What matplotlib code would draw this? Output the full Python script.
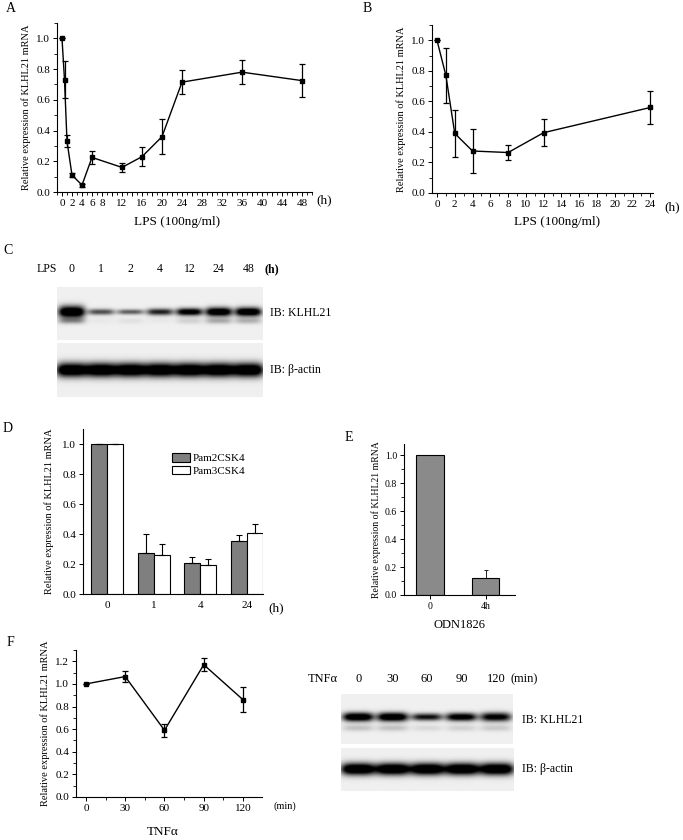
import numpy as np
import matplotlib
matplotlib.use("Agg")
import matplotlib.pyplot as plt
from matplotlib.ticker import MultipleLocator, FixedLocator

plt.rcParams["font.family"] = ["Liberation Serif", "DejaVu Serif"]
plt.rcParams["font.size"] = 8
plt.rcParams["axes.linewidth"] = 0.8
plt.rcParams["xtick.major.size"] = 3
plt.rcParams["ytick.major.size"] = 3
plt.rcParams["xtick.minor.size"] = 2
plt.rcParams["ytick.minor.size"] = 2
plt.rcParams["xtick.major.pad"] = 2
plt.rcParams["ytick.major.pad"] = 2

W, H = 683, 840
YLABEL = "Relative expression of KLHL21 mRNA"

# ---- data ----
# A: LPS time course (h)
a_time = [0, 0.5, 1, 2, 4, 6, 12, 16, 20, 24, 36, 48]
a_expr = [1.0, 0.73, 0.33, 0.11, 0.045, 0.225, 0.16, 0.23, 0.36, 0.715, 0.78, 0.725]
a_err = [0.0, 0.12, 0.04, 0.015, 0.01, 0.045, 0.03, 0.06, 0.115, 0.08, 0.078, 0.105]
a_ticks = [0, 2, 4, 6, 8, 12, 16, 20, 24, 28, 32, 36, 40, 44, 48]

# B: LPS time course (h)
b_time = [0, 1, 2, 4, 8, 12, 24]
b_expr = [1.0, 0.77, 0.39, 0.275, 0.265, 0.395, 0.56]
b_err = [0.0, 0.18, 0.155, 0.145, 0.05, 0.09, 0.105]

# C: western blot, LPS
c_lanes = ["0", "1", "2", "4", "12", "24", "48"]
c_klhl21 = [1.0, 0.5, 0.45, 0.65, 0.85, 0.95, 0.95]
c_klhl21_width = [1.6, 0.8, 0.7, 0.9, 1.0, 1.2, 1.2]
c_klhl21_low = [0.55, 0.05, 0.1, 0.05, 0.2, 0.45, 0.4]
c_actin = [1.0, 1.0, 1.0, 1.0, 1.0, 1.0, 1.0]

# D: Pam2CSK4 / Pam3CSK4
d_groups = ["0", "1", "4", "24"]
d_pam2 = [1.0, 0.275, 0.205, 0.355]
d_pam2_err = [0.0, 0.125, 0.045, 0.04]
d_pam3 = [1.0, 0.262, 0.195, 0.41]
d_pam3_err = [0.0, 0.07, 0.04, 0.06]

# E: ODN1826
e_groups = ["0", "4h"]
e_expr = [1.0, 0.12]
e_err = [0.0, 0.06]

# F: TNFa time course (min)
f_time = [0, 30, 60, 90, 120]
f_expr = [1.0, 1.065, 0.59, 1.17, 0.86]
f_err = [0.0, 0.045, 0.055, 0.055, 0.11]

# F: western blot, TNFa
f_lanes = ["0", "30", "60", "90", "120"]
f_klhl21 = [0.95, 0.95, 0.7, 0.85, 0.8]
f_klhl21_width = [1.1, 1.1, 0.9, 1.0, 1.1]
f_klhl21_low = [0.3, 0.3, 0.15, 0.2, 0.25]
f_actin = [1.0, 1.0, 1.0, 1.0, 1.0]


fig = plt.figure(figsize=(W / 100, H / 100), dpi=100)


def px_axes(left, top, right, bottom):
    return fig.add_axes([left / W, 1 - bottom / H, (right - left) / W, (bottom - top) / H])


def style(ax):
    ax.spines["top"].set_visible(False)
    ax.spines["right"].set_visible(False)
    ax.tick_params(direction="out", width=0.7)
    ax.tick_params(which="minor", direction="out", width=0.6)


def fig_text(x, y, s, **kw):
    fig.text(x / W, 1 - y / H, s, **kw)


def line_panel(ax, x, y, err):
    ax.errorbar(x, y, yerr=err, color="black", lw=1.0, marker="s", ms=3.3,
                capsize=2.5, elinewidth=0.9, capthick=0.9, clip_on=False)


def blot(ax, strength, width=None, low=None, y_main=0.47, sig=0.07, y_low=0.65, fill=0.85):
    n = len(strength)
    if width is None:
        width = [1.0] * n
    if low is None:
        low = [0.0] * n
    nx, ny = 400, 90
    xs = (np.arange(nx) + 0.5) / nx * n
    ys = (np.arange(ny) + 0.5) / ny
    img = np.full((ny, nx), 0.94)
    for i in range(n):
        prof = np.exp(-np.abs((xs - (i + 0.5)) / (0.5 * fill)) ** 4)
        band = np.exp(-((ys - y_main) / (sig * width[i])) ** 2)
        img -= 1.3 * strength[i] * np.outer(band, prof)
        lowband = np.exp(-((ys - y_low) / (sig * 0.8)) ** 2)
        img -= 0.6 * low[i] * np.outer(lowband, prof)
    img = np.clip(img, 0.0, 1.0)
    ax.imshow(img, cmap="gray", vmin=0, vmax=1, aspect="auto",
              extent=[0, n, 1, 0], interpolation="bilinear")
    ax.set_xlim(0, n)
    ax.set_ylim(1, 0)
    ax.axis("off")


# ---- A ----
ax = px_axes(57, 23, 312, 192)
style(ax)
line_panel(ax, a_time, a_expr, a_err)
ax.set_xlim(-1, 50)
ax.set_ylim(0, 1.1)
ax.xaxis.set_major_locator(FixedLocator(list(range(0, 49, 2))))
ax.set_xticklabels([str(t) if t in a_ticks else "" for t in range(0, 49, 2)])
ax.xaxis.set_minor_locator(MultipleLocator(1))
ax.set_yticks([0, 0.2, 0.4, 0.6, 0.8, 1.0])
ax.set_yticklabels(["0.0", "0.2", "0.4", "0.6", "0.8", "1.0"])
ax.yaxis.set_minor_locator(MultipleLocator(0.1))
ax.set_ylabel(YLABEL, fontsize=7.5, labelpad=4)
fig_text(324, 200, "(h)", fontsize=9.5, ha="center", va="center")
fig_text(177, 222, "LPS (100ng/ml)", fontsize=9.5, ha="center", va="center")
fig_text(6, 8, "A", fontsize=10, ha="left", va="center")

# ---- B ----
ax = px_axes(432, 25, 653, 193)
style(ax)
line_panel(ax, b_time, b_expr, b_err)
ax.set_xlim(-0.56, 24.3)
ax.set_ylim(0, 1.1)
ax.xaxis.set_major_locator(MultipleLocator(2))
ax.xaxis.set_minor_locator(MultipleLocator(1))
ax.set_yticks([0, 0.2, 0.4, 0.6, 0.8, 1.0])
ax.set_yticklabels(["0.0", "0.2", "0.4", "0.6", "0.8", "1.0"])
ax.yaxis.set_minor_locator(MultipleLocator(0.1))
ax.set_ylabel(YLABEL, fontsize=7.5, labelpad=4)
fig_text(672, 207, "(h)", fontsize=9.5, ha="center", va="center")
fig_text(557, 222, "LPS (100ng/ml)", fontsize=9.5, ha="center", va="center")
fig_text(363, 8, "B", fontsize=10, ha="left", va="center")

# ---- C ----
fig_text(3, 250, "C", fontsize=10, ha="left", va="center")
ax = px_axes(57, 287, 263, 340)
blot(ax, c_klhl21, c_klhl21_width, c_klhl21_low, y_main=0.47, sig=0.07, y_low=0.64, fill=0.9)
for i, lab in enumerate(c_lanes):
    ax.text(i + 0.5, -0.22, lab, fontsize=8.5, ha="center", va="bottom", clip_on=False)
ax.text(-0.35, -0.22, "LPS", fontsize=8.5, ha="center", va="bottom", clip_on=False)
ax.text(len(c_lanes) + 0.3, -0.22, "(h)", fontsize=8.5, ha="center", va="bottom",
        fontweight="bold", clip_on=False)
fig_text(270, 313, "IB: KLHL21", fontsize=8.5, ha="left", va="center")
ax = px_axes(57, 343, 263, 397)
blot(ax, c_actin, low=None, y_main=0.5, sig=0.13, fill=1.05)
fig_text(270, 370, "IB: β-actin", fontsize=8.5, ha="left", va="center")

# ---- D ----
ax = px_axes(83, 429, 263, 594)
style(ax)
xd = np.arange(len(d_groups))
bw = 0.34
ax.bar(xd - bw / 2, d_pam2, bw, color="#7f7f7f", edgecolor="black", lw=0.8, label="Pam2CSK4")
ax.bar(xd + bw / 2, d_pam3, bw, color="white", edgecolor="black", lw=0.8, label="Pam3CSK4")
ax.errorbar(xd - bw / 2, d_pam2, yerr=[np.zeros(4), d_pam2_err], fmt="none", ecolor="black",
            elinewidth=0.8, capsize=2.5, capthick=0.8)
ax.errorbar(xd + bw / 2, d_pam3, yerr=[np.zeros(4), d_pam3_err], fmt="none", ecolor="black",
            elinewidth=0.8, capsize=2.5, capthick=0.8)
ax.set_xlim(-0.52, 3.35)
ax.set_ylim(0, 1.1)
ax.set_xticks(xd)
ax.set_xticklabels(d_groups)
ax.tick_params(axis="x", length=0, pad=5)
ax.set_yticks([0, 0.2, 0.4, 0.6, 0.8, 1.0])
ax.set_yticklabels(["0.0", "0.2", "0.4", "0.6", "0.8", "1.0"])
ax.set_ylabel(YLABEL, fontsize=7.5, labelpad=6)
ax.legend(loc="upper left", bbox_to_anchor=(0.47, 0.88), frameon=False, fontsize=8,
          handlelength=1.6, handleheight=0.8, handletextpad=0.3, labelspacing=0.2,
          borderaxespad=0)
fig_text(276, 608, "(h)", fontsize=9.5, ha="center", va="center")
fig_text(3, 428, "D", fontsize=10, ha="left", va="center")

# ---- E ----
ax = px_axes(404, 444, 515, 595)
style(ax)
xe = np.arange(len(e_groups))
ax.bar(xe, e_expr, 0.5, color="#8a8a8a", edgecolor="black", lw=0.8)
ax.errorbar(xe, e_expr, yerr=[np.zeros(2), e_err], fmt="none", ecolor="black",
            elinewidth=0.6, capsize=1.5, capthick=0.6)
ax.set_xlim(-0.47, 1.53)
ax.set_ylim(0, 1.08)
ax.set_xticks(xe)
ax.set_xticklabels(e_groups, fontsize=7)
ax.set_yticks([0, 0.2, 0.4, 0.6, 0.8, 1.0])
ax.set_yticklabels(["0.0", "0.2", "0.4", "0.6", "0.8", "1.0"], fontsize=7)
ax.yaxis.set_minor_locator(MultipleLocator(0.1))
ax.set_ylabel(YLABEL, fontsize=7, labelpad=3)
fig_text(460, 625, "ODN1826", fontsize=9, ha="center", va="center")
fig_text(345, 437, "E", fontsize=10, ha="left", va="center")

# ---- F ----
ax = px_axes(76, 650, 262, 797)
style(ax)
line_panel(ax, f_time, f_expr, f_err)
ax.set_xlim(-7.6, 134.5)
ax.set_ylim(0, 1.3)
ax.xaxis.set_major_locator(MultipleLocator(30))
ax.xaxis.set_minor_locator(MultipleLocator(15))
ax.set_yticks([0, 0.2, 0.4, 0.6, 0.8, 1.0, 1.2])
ax.set_yticklabels(["0.0", "0.2", "0.4", "0.6", "0.8", "1.0", "1.2"])
ax.yaxis.set_minor_locator(MultipleLocator(0.1))
ax.set_ylabel(YLABEL, fontsize=7.5, labelpad=4)
fig_text(285, 806, "(min)", fontsize=7.5, ha="center", va="center")
fig_text(163, 832, "TNFα", fontsize=9.5, ha="center", va="center")
fig_text(7, 642, "F", fontsize=10, ha="left", va="center")

ax = px_axes(341, 694, 513, 744)
blot(ax, f_klhl21, f_klhl21_width, f_klhl21_low, y_main=0.46, sig=0.08, y_low=0.68, fill=0.9)
for i, lab in enumerate(f_lanes):
    ax.text(i + 0.5, -0.18, lab, fontsize=9, ha="center", va="bottom", clip_on=False)
ax.text(-0.52, -0.18, "TNFα", fontsize=9, ha="center", va="bottom", clip_on=False)
ax.text(len(f_lanes) + 0.32, -0.18, "(min)", fontsize=9, ha="center", va="bottom", clip_on=False)
fig_text(522, 720, "IB: KLHL21", fontsize=8.5, ha="left", va="center")
ax = px_axes(341, 748, 514, 791)
blot(ax, f_actin, y_main=0.49, sig=0.14, fill=1.0)
fig_text(522, 769, "IB: β-actin", fontsize=8.5, ha="left", va="center")

fig.savefig("out.png", dpi=100)
